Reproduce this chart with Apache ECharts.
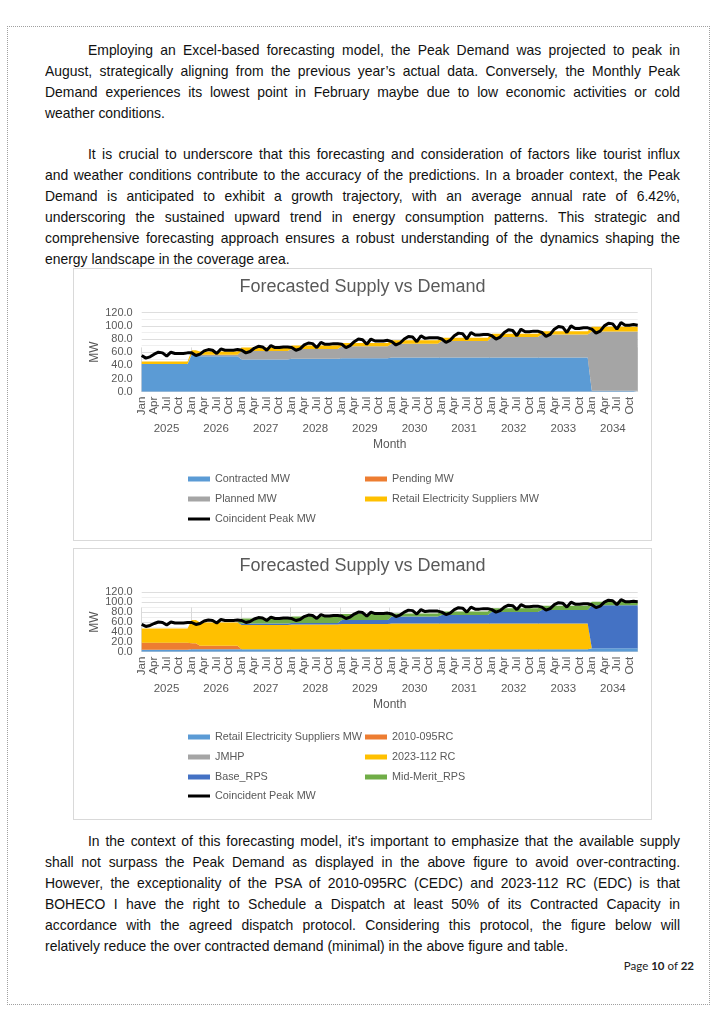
<!DOCTYPE html>
<html><head><meta charset="utf-8">
<script src="https://cdn.jsdelivr.net/npm/echarts/dist/echarts.min.js"></script>
<style>
html,body{margin:0;padding:0;background:#fff;}
body{width:724px;height:1024px;position:relative;overflow:hidden;}
.frame{position:absolute;left:7px;top:26px;width:703px;height:979px;border:1px dotted #a0a0a0;box-sizing:border-box;}
.para{position:absolute;left:45px;width:640px;font-family:"Liberation Sans",Arial,sans-serif;font-size:14.5px;line-height:21px;color:#111;}
.line{white-space:nowrap;height:21px;}
.line span{display:inline-block;transform-origin:0 0;}
.indent{padding-left:43px;}
.box{position:absolute;left:73px;width:579px;border:1px solid #d9d9d9;box-sizing:border-box;pointer-events:none;}
.chart{position:absolute;left:73px;width:579px;}
.pnum{position:absolute;right:30px;top:959px;font-family:Lato,"Open Sans",sans-serif;font-size:11.5px;color:#222;}
</style></head>
<body>
<div class="frame"></div>

<div class="para" style="top:40px">
<div class="line indent"><span>Employing an Excel-based forecasting model, the Peak Demand was projected to peak in</span></div>
<div class="line"><span>August, strategically aligning from the previous year’s actual data. Conversely, the Monthly Peak</span></div>
<div class="line"><span>Demand experiences its lowest point in February maybe due to low economic activities or cold</span></div>
<div class="line last"><span>weather conditions.</span></div>
</div>

<div class="para" style="top:144px">
<div class="line indent"><span>It is crucial to underscore that this forecasting and consideration of factors like tourist influx</span></div>
<div class="line"><span>and weather conditions contribute to the accuracy of the predictions. In a broader context, the Peak</span></div>
<div class="line"><span>Demand is anticipated to exhibit a growth trajectory, with an average annual rate of 6.42%,</span></div>
<div class="line"><span>underscoring the sustained upward trend in energy consumption patterns. This strategic and</span></div>
<div class="line"><span>comprehensive forecasting approach ensures a robust understanding of the dynamics shaping the</span></div>
<div class="line last"><span>energy landscape in the coverage area.</span></div>
</div>

<div id="c1" class="chart" style="top:268px;height:273px"></div>
<div class="box" style="top:268px;height:273px"></div>
<div id="c2" class="chart" style="top:548px;height:272px"></div>
<div class="box" style="top:548px;height:272px"></div>

<div class="para" style="top:831px">
<div class="line indent"><span>In the context of this forecasting model, it's important to emphasize that the available supply</span></div>
<div class="line"><span>shall not surpass the Peak Demand as displayed in the above figure to avoid over-contracting.</span></div>
<div class="line"><span>However, the exceptionality of the PSA of 2010-095RC (CEDC) and 2023-112 RC (EDC) is that</span></div>
<div class="line"><span>BOHECO I have the right to Schedule a Dispatch at least 50% of its Contracted Capacity in</span></div>
<div class="line"><span>accordance with the agreed dispatch protocol. Considering this protocol, the figure below will</span></div>
<div class="line last"><span>relatively reduce the over contracted demand (minimal) in the above figure and table.</span></div>
</div>

<div class="pnum">Page <b>10</b> of <b>22</b></div>

<script>
// ---------- DATA ----------
const years = ['2025','2026','2027','2028','2029','2030','2031','2032','2033','2034'];
const monthNames = ['Jan','Feb','Mar','Apr','May','Jun','Jul','Aug','Sep','Oct','Nov','Dec'];
const yTickLabels = ['0.0','20.0','40.0','60.0','80.0','100.0','120.0'];

// Coincident Peak MW (both charts)
const coincidentPeakMW = [
  55,51,53,57,60,59,54,60,58,58,58,59,
  59,55,57,62,64,63,58,65,63,63,63,64,
  63,59,61,66,69,68,63,70,67,67,68,68,
  67,63,65,71,74,73,67,75,72,72,73,73,
  72,67,70,76,80,79,72,80,77,77,77,78,
  76,71,74,80,84,83,76,85,81,82,82,82,
  80,75,78,85,89,88,80,90,86,86,87,87,
  85,80,83,90,94,93,85,95,91,91,92,92,
  90,84,87,95,99,98,90,100,96,96,97,97,
  95,89,92,100,104,103,95,105,101,101,102,101
];

// Chart 1
const contractedMW = [
  42,42,42,42,42,42,42,42,42,42,42,42,
  56,56,54,54,54,54,54,54,54,54,54,54,
  49,49,49,49,49,49,49,49,49,49,49,49,
  50,50,50,50,50,50,50,50,50,50,50,50,
  51,51,51,51,51,51,51,51,51,51,51,51,
  52,52,52,52,52,52,52,52,52,52,52,52,
  52,52,52,52,52,52,52,52,52,52,52,52,
  52,52,52,52,52,52,52,52,52,52,52,52,
  52,52,52,52,52,52,52,52,52,52,52,52,
  1.5,1.5,1.5,1.5,1.5,1.5,1.5,1.5,1.5,1.5,1.5,1.5
];
const pendingMW = [
  0,0,0,0,0,0,0,0,0,0,0,0, 0,0,0,0,0,0,0,0,0,0,0,0,
  0,0,0,0,0,0,0,0,0,0,0,0, 0,0,0,0,0,0,0,0,0,0,0,0,
  0,0,0,0,0,0,0,0,0,0,0,0, 0,0,0,0,0,0,0,0,0,0,0,0,
  0,0,0,0,0,0,0,0,0,0,0,0, 0,0,0,0,0,0,0,0,0,0,0,0,
  0,0,0,0,0,0,0,0,0,0,0,0, 0,0,0,0,0,0,0,0,0,0,0,0
];
const plannedMW = [
  0,0,0,0,0,0,0,0,0,0,0,0,
  2,2,2,2,2,2,2,2,2,2,2,2,
  13,13,13,13,13,13,13,13,13,13,13,13,
  15,15,15,15,15,15,15,15,15,15,15,15,
  18,18,18,18,18,18,18,18,18,18,18,18,
  21,21,21,21,21,21,21,21,21,21,21,21,
  25,25,25,25,25,25,25,25,25,25,25,25,
  31,31,31,31,31,31,31,31,31,31,31,31,
  35,35,35,35,35,35,35,35,35,35,35,35,
  90,90,90,90,90,90,90,90,90,90,90,90
];
const retailMW = [
  4,4,4,4,4,4,4,4,4,4,4,4,
  5,5,5,5,5,5,5,5,5,5,5,5,
  5,5,5,5,5,5,5,5,5,5,5,5,
  5,5,5,5,5,5,5,5,5,5,5,5,
  5,5,5,5,5,5,5,5,5,5,5,5,
  5,5,5,5,5,5,5,5,5,5,5,5,
  5,5,5,5,5,5,5,5,5,5,5,5,
  5,5,5,5,5,5,5,5,5,5,5,5,
  5,5,5,5,5,5,5,5,5,5,5,5,
  7,7,7,7,7,7,7,7,7,7,7,7
];

// Chart 2
const rc2010095 = [
  14,14,14,14,14,14,14,14,14,14,14,14,
  12,12,7,7,7,7,7,7,7,7,7,7,
  0,0,0,0,0,0,0,0,0,0,0,0, 0,0,0,0,0,0,0,0,0,0,0,0,
  0,0,0,0,0,0,0,0,0,0,0,0, 0,0,0,0,0,0,0,0,0,0,0,0,
  0,0,0,0,0,0,0,0,0,0,0,0, 0,0,0,0,0,0,0,0,0,0,0,0,
  0,0,0,0,0,0,0,0,0,0,0,0, 0,0,0,0,0,0,0,0,0,0,0,0
];
const jmhp = [
  0,0,0,0,0,0,0,0,0,0,0,0, 0,0,0,0,0,0,0,0,0,0,0,0,
  0,0,0,0,0,0,0,0,0,0,0,0, 0,0,0,0,0,0,0,0,0,0,0,0,
  0,0,0,0,0,0,0,0,0,0,0,0, 0,0,0,0,0,0,0,0,0,0,0,0,
  0,0,0,0,0,0,0,0,0,0,0,0, 0,0,0,0,0,0,0,0,0,0,0,0,
  0,0,0,0,0,0,0,0,0,0,0,0, 0,0,0,0,0,0,0,0,0,0,0,0
];
const rc2023112 = [
  29,29,29,29,29,29,29,29,29,29,29,29,
  47,47,47,47,47,47,47,47,47,47,47,47,
  49,49,49,49,49,49,49,49,49,49,49,49,
  50,50,50,50,50,50,50,50,50,50,50,50,
  51,51,51,51,51,51,51,51,51,51,51,51,
  52,52,52,52,52,52,52,52,52,52,52,52,
  52,52,52,52,52,52,52,52,52,52,52,52,
  52,52,52,52,52,52,52,52,52,52,52,52,
  52,52,52,52,52,52,52,52,52,52,52,52,
  0,0,0,0,0,0,0,0,0,0,0,0
];
const baseRPS = [
  0,0,0,0,0,0,0,0,0,0,0,0,
  0,0,0,0,0,0,0,0,0,0,0,0,
  3,3,3,3,3,3,3,3,3,3,3,3,
  3,3,3,3,3,3,3,3,3,3,3,3,
  8,8,8,8,8,8,8,8,8,8,8,8,
  14,14,14,14,14,14,14,14,14,14,14,14,
  17,17,17,17,17,17,17,17,17,17,17,17,
  23,23,23,23,23,23,23,23,23,23,23,23,
  27,27,27,27,27,27,27,27,27,27,27,27,
  87,87,87,87,87,87,87,87,87,87,87,87
];
const midMeritRPS = [
  0,0,0,0,0,0,0,0,0,0,0,0,
  0,0,0,0,0,0,0,0,0,0,0,0,
  10,10,10,10,10,10,10,10,10,10,10,10,
  13,13,13,13,13,13,13,13,13,13,13,13,
  12,12,12,12,12,12,12,12,12,12,12,12,
  6,6,6,6,6,6,6,6,6,6,6,6,
  7,7,7,7,7,7,7,7,7,7,7,7,
  8,8,8,8,8,8,8,8,8,8,8,8,
  9,9,9,9,9,9,9,9,9,9,9,9,
  7,7,7,7,7,7,7,7,7,7,7,7
];

// ---------- TEXT (justified per line) ----------
(function(){
  const S=0.96, FULL=635;
  document.querySelectorAll('.line').forEach(el=>{
    const span=el.querySelector('span');
    if(!el.classList.contains('last')){
      const target=(el.classList.contains('indent')?FULL-43:FULL)/S;
      const w=span.getBoundingClientRect().width;
      const n=(span.textContent.match(/ /g)||[]).length;
      if(n>0) span.style.wordSpacing=((target-w)/n)+'px';
    }
    span.style.transform='scaleX('+S+')';
  });
})();

// ---------- CHARTS ----------
const categories=[];
years.forEach(y=>monthNames.forEach(m=>categories.push(m+' '+y)));
const FONT='"Liberation Sans", Arial, sans-serif';
const GREY='#595959';

function areaSeries(name,data,color){
  return {name,type:'line',stack:'total',data,symbol:'none',showSymbol:false,
    lineStyle:{width:0},areaStyle:{color,opacity:1},itemStyle:{color},
    emphasis:{disabled:true},silent:true};
}
function peakSeries(){
  return {name:'Coincident Peak MW',type:'line',data:coincidentPeakMW,symbol:'none',
    lineStyle:{color:'#000',width:3},itemStyle:{color:'#000'},z:10,emphasis:{disabled:true},silent:true};
}
function legends(items){
  return items.map(it=>({
    data:[it.name],left:it.left,top:it.top-6.5,padding:0,
    icon:'rect',itemWidth:22,itemHeight:it.h||5,
    textStyle:{color:GREY,fontSize:10.8,fontFamily:FONT,lineHeight:13},
    selectedMode:false
  }));
}
const yLabelStyle={fontSize:11,lineHeight:7,color:GREY,fontFamily:FONT,margin:9};
function makeOption(plotTop,plotH,series,legendItems,titleTop){
  return {
    animation:false,
    textStyle:{fontFamily:FONT},
    title:{text:'Forecasted Supply vs Demand',left:'center',top:titleTop,padding:0,
      textStyle:{fontSize:18,fontWeight:'normal',color:GREY,fontFamily:FONT}},
    legend:legends(legendItems),
    grid:{left:68.7,right:14.3,top:plotTop,height:plotH,containLabel:false},
    xAxis:[
      {type:'category',data:categories,boundaryGap:false,
        axisLine:{show:true,lineStyle:{color:'#d9d9d9',width:1}},
        axisTick:{show:false},
        axisLabel:{interval:function(i){return i%3===0;},rotate:90,margin:5,
          fontSize:11.5,color:GREY,fontFamily:FONT,formatter:function(v){return v.split(' ')[0];}},
        splitLine:{show:false}},
      {type:'category',data:years,boundaryGap:true,position:'bottom',offset:44.3,
        axisLine:{show:false},
        axisTick:{show:true,inside:true,length:44.3,interval:0,lineStyle:{color:'#d9d9d9'}},
        axisLabel:{inside:true,interval:0,margin:1,fontSize:11.5,color:GREY,fontFamily:FONT},
        name:'Month',nameLocation:'middle',nameGap:3,
        nameTextStyle:{fontSize:12,color:GREY,fontFamily:FONT}}
    ],
    yAxis:[
      {type:'value',min:0,max:120,interval:20,position:'left',
        axisLine:{show:false},axisTick:{show:false},
        axisLabel:Object.assign({showMinLabel:false,showMaxLabel:false,hideOverlap:false,
          formatter:function(v){return yTickLabels[Math.round(v/20)];}},yLabelStyle),
        splitLine:{show:true,lineStyle:{color:'#dedede',width:1}},
        minorTick:{show:false,splitNumber:2},
        minorSplitLine:{show:true,lineStyle:{color:'#efefef',width:1}},
        name:'MW',nameLocation:'middle',nameGap:41,nameMoveOverlap:false,
        nameTextStyle:{fontSize:12,color:GREY,fontFamily:FONT}},
      {type:'value',min:0,max:120,interval:120,position:'left',
        axisLine:{show:false},axisTick:{show:false},splitLine:{show:false},
        axisLabel:Object.assign({showMinLabel:true,showMaxLabel:true,hideOverlap:false,
          formatter:function(v){return yTickLabels[Math.round(v/20)];}},yLabelStyle)}
    ],
    series:series
  };
}

const c1=echarts.init(document.getElementById('c1'),null,{renderer:'canvas'});
c1.setOption(makeOption(44.7,79,[
  areaSeries('Contracted MW',contractedMW,'#5B9BD5'),
  areaSeries('Pending MW',pendingMW,'#ED7D31'),
  areaSeries('Planned MW',plannedMW,'#A5A5A5'),
  areaSeries('Retail Electricity Suppliers MW',retailMW,'#FFC000'),
  peakSeries()
],[
  {name:'Contracted MW',left:115,top:211},
  {name:'Pending MW',left:292,top:211},
  {name:'Planned MW',left:115,top:231},
  {name:'Retail Electricity Suppliers MW',left:292,top:231},
  {name:'Coincident Peak MW',left:115,top:251,h:3}
],10));

const c2=echarts.init(document.getElementById('c2'),null,{renderer:'canvas'});
c2.setOption(makeOption(44.3,59.4,[
  areaSeries('Retail Electricity Suppliers MW',retailMW,'#5B9BD5'),
  areaSeries('2010-095RC',rc2010095,'#ED7D31'),
  areaSeries('JMHP',jmhp,'#A5A5A5'),
  areaSeries('2023-112 RC',rc2023112,'#FFC000'),
  areaSeries('Base_RPS',baseRPS,'#4472C4'),
  areaSeries('Mid-Merit_RPS',midMeritRPS,'#70AD47'),
  peakSeries()
],[
  {name:'Retail Electricity Suppliers MW',left:115,top:189},
  {name:'2010-095RC',left:292,top:189},
  {name:'JMHP',left:115,top:209},
  {name:'2023-112 RC',left:292,top:209},
  {name:'Base_RPS',left:115,top:229},
  {name:'Mid-Merit_RPS',left:292,top:229},
  {name:'Coincident Peak MW',left:115,top:248,h:3}
],9));
</script>
</body></html>
